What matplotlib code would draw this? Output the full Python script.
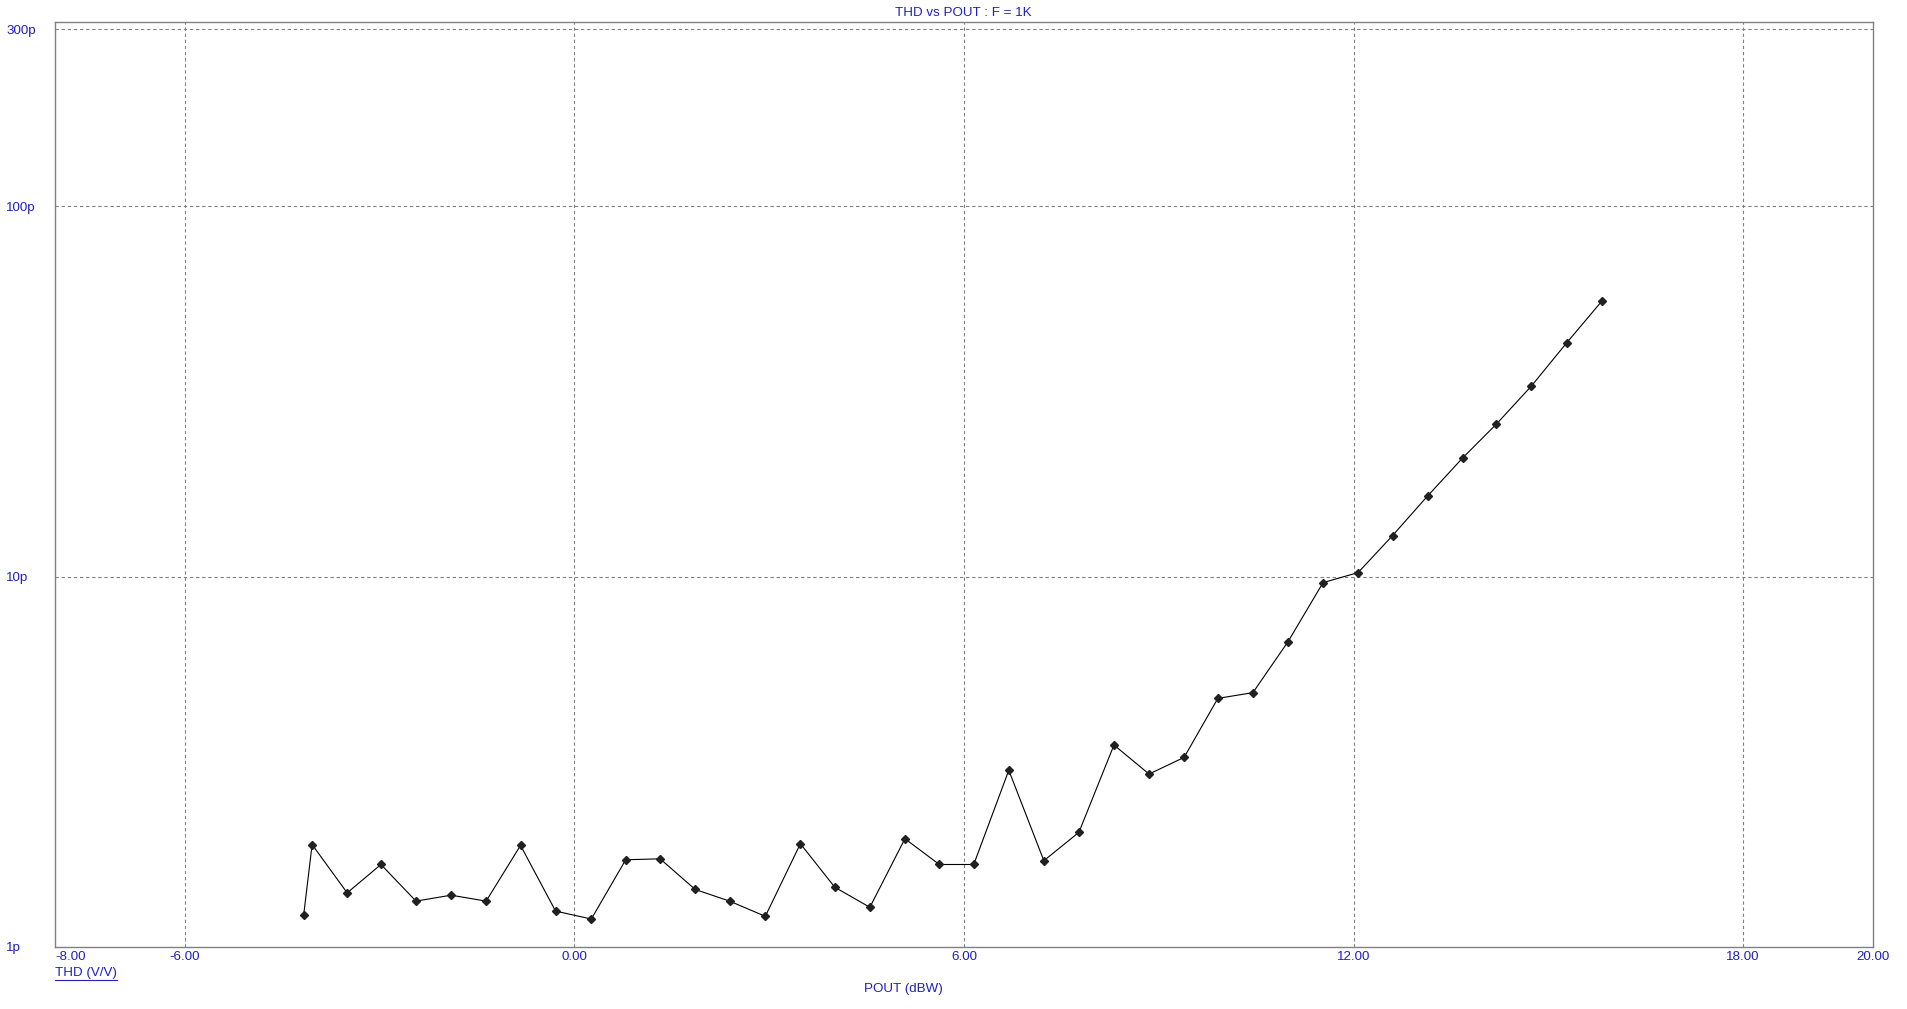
import matplotlib.pyplot as plt
from matplotlib.lines import Line2D

# THD vs POUT, F = 1K  (THD in pV/V units, shown with "p" suffix)
pout_dbw = [-4.17, -4.04, -3.50, -2.98, -2.44, -1.90, -1.36, -0.83, -0.29, 0.26,
            0.79, 1.32, 1.86, 2.39, 2.94, 3.48, 4.01, 4.55, 5.09, 5.62,
            6.15, 6.69, 7.23, 7.77, 8.31, 8.85, 9.39, 9.91, 10.45, 10.99,
            11.53, 12.07, 12.60, 13.14, 13.68, 14.20, 14.74, 15.28, 15.82]
thd_p = [1.22, 1.89, 1.40, 1.67, 1.33, 1.38, 1.33, 1.88, 1.25, 1.19,
         1.72, 1.73, 1.43, 1.33, 1.21, 1.90, 1.45, 1.28, 1.96, 1.67,
         1.67, 3.00, 1.71, 2.04, 3.51, 2.93, 3.25, 4.69, 4.86, 6.67,
         9.63, 10.25, 12.9, 16.5, 20.9, 25.8, 32.7, 42.7, 55.3]

x_ticks = [-8, -6, 0, 6, 12, 18, 20]
y_ticks = [1, 10, 100, 300]
y_labels = ["1p", "10p", "100p", "300p"]

blue = "#2020c0"
fs = 9.6
plt.rcParams['font.family'] = ['Liberation Sans', 'DejaVu Sans']

W, H = 1907, 1009
fig = plt.figure(figsize=(W / 100, H / 100), dpi=100)
ax = fig.add_axes([55 / W, 1 - 947 / H, (1873 - 55) / W, (947 - 22) / H])

ax.plot(pout_dbw, thd_p, color="black", lw=0.8, marker="D", ms=3.8,
        mfc="#202020", mec="#202020")

ax.set_yscale("log")
ax.set_xlim(-8, 20)
ax.set_ylim(1, 10 ** 2.497)
ax.minorticks_off()

ax.set_xticks(x_ticks)
ax.set_xticklabels(["%.2f" % v for v in x_ticks], color=blue, fontsize=fs)
ax.get_xticklabels()[0].set_horizontalalignment("left")
ax.set_yticks(y_ticks)
ax.set_yticklabels(y_labels, color=blue, fontsize=fs, ha="left")
ax.tick_params(axis="x", length=0, pad=3)
ax.tick_params(axis="y", length=0, pad=35)

# dashed grid lines, skipping the ones on the frame
for v in x_ticks[1:-1]:
    ax.axvline(v, color="#808080", ls=(0, (3, 2.5)), lw=0.8, zorder=0)
for v in y_ticks[1:]:
    ax.axhline(v, color="#808080", ls=(0, (3, 2.5)), lw=0.8, zorder=0)

for s in ax.spines.values():
    s.set_color("#808080")
    s.set_linewidth(1.0)

fig.text(963 / W, 1 - 12.5 / H, "THD vs POUT : F = 1K", color=blue, fontsize=fs,
         ha="center", va="center")
fig.text(903 / W, 1 - 989 / H, "POUT (dBW)", color=blue, fontsize=fs,
         ha="center", va="center")
lab = fig.text(55 / W, 1 - 973 / H, "THD (V/V)", color=blue, fontsize=fs,
               ha="left", va="center")

# underline for the y-axis caption
renderer = fig.canvas.get_renderer()
bb = lab.get_window_extent(renderer)
uy = 1 - 980 / H
fig.add_artist(Line2D([bb.x0 / W, bb.x1 / W], [uy, uy], color=blue, lw=0.8))

fig.savefig("out.png", dpi=100)
